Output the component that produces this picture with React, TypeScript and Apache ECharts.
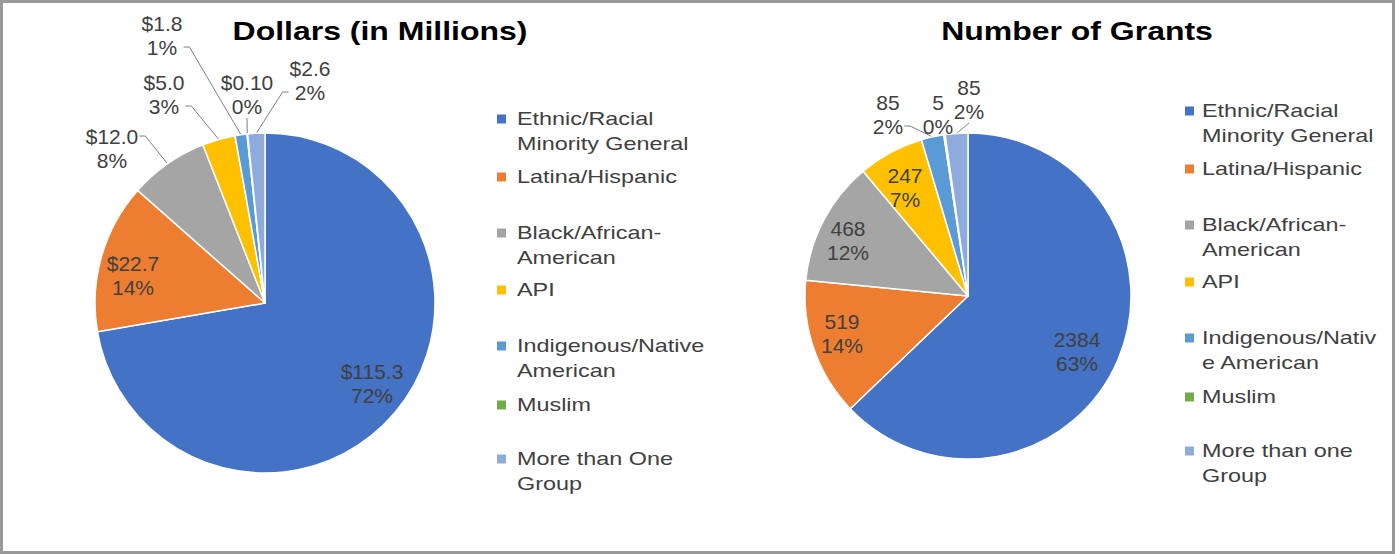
import React, { useEffect, useRef } from "react";
import * as echarts from "echarts";

// ---------- data ----------
const dollarTitle = "Dollars (in Millions)";
const grantTitle = "Number of Grants";

const dollarCategories = [
  "Ethnic/Racial\nMinority General",
  "Latina/Hispanic",
  "Black/African-\nAmerican",
  "API",
  "Indigenous/Native\nAmerican",
  "Muslim",
  "More than One\nGroup",
];
const grantCategories = [
  "Ethnic/Racial\nMinority General",
  "Latina/Hispanic",
  "Black/African-\nAmerican",
  "API",
  "Indigenous/Nativ\ne American",
  "Muslim",
  "More than one\nGroup",
];
const dollarValues = [115.3, 22.7, 12.0, 5.0, 1.8, 0.1, 2.6];
const grantValues = [2384, 519, 468, 247, 85, 5, 85];

const sliceColors = ["#4472C4", "#ED7D31", "#A5A5A5", "#FFC000", "#5B9BD5", "#70AD47", "#8FAADC"];

// ---------- layout ----------
const W = 1395;
const H = 554;
const FONT = "'Liberation Sans', Arial, sans-serif";
const TEXT_COLOR = "#404040";

const PIES = [
  {
    title: dollarTitle,
    categories: dollarCategories,
    values: dollarValues,
    fmt: (v: number) => "$" + (v < 1 ? v.toFixed(2) : v.toFixed(1)),
    cx: 265,
    cy: 303,
    r: 170,
    titleX: 380,
    legendIconX: 497,
    legendTextX: 517,
    legendY: [119, 177, 233, 290, 346, 405, 459],
    labelOffsets: [
      [107, 80],
      [-132, -28],
      [-153, -155],
      [-101, -209],
      [-103, -268],
      [-18, -209],
      [45, -223],
    ],
    attachTop: [false, false, true, false, false, false, false],
    outside: [false, false, true, true, true, true, true],
  },
  {
    title: grantTitle,
    categories: grantCategories,
    values: grantValues,
    fmt: (v: number) => String(v),
    cx: 968,
    cy: 296,
    r: 163,
    titleX: 1077,
    legendIconX: 1185,
    legendTextX: 1202,
    legendY: [111, 169, 225, 282, 338, 397, 451],
    labelOffsets: [
      [109, 55],
      [-126, 37],
      [-120, -56],
      [-63, -109],
      [-80, -182],
      [-30, -182],
      [1, -197],
    ],
    attachTop: [false, false, false, false, false, false, false],
    outside: [false, false, false, false, true, true, true],
  },
];

function midFraction(values: number[], i: number) {
  const total = values.reduce((a, b) => a + b, 0);
  let before = 0;
  for (let k = 0; k < i; k++) before += values[k];
  return (before + values[i] / 2) / total;
}

export default function App() {
  const ref = useRef<HTMLDivElement>(null);

  useEffect(() => {
    if (!ref.current) return;
    const chart = echarts.init(ref.current, undefined, { renderer: "svg" });

    const series = PIES.map((pie) => {
      const total = pie.values.reduce((a, b) => a + b, 0);
      return {
        type: "pie",
        center: [pie.cx, pie.cy],
        radius: pie.r,
        startAngle: 90,
        clockwise: true,
        avoidLabelOverlap: false,
        itemStyle: { borderColor: "#ffffff", borderWidth: 1.5 },
        emphasis: { disabled: true },
        label: {
          show: true,
          position: "outside",
          fontFamily: FONT,
          fontSize: 21,
          lineHeight: 24,
          color: TEXT_COLOR,
          formatter: (p: any) => pie.fmt(p.value) + "\n" + Math.round((p.value / total) * 100) + "%",
        },
        labelLine: {
          show: true,
          length: 8,
          length2: 6,
          smooth: false,
          lineStyle: { color: "#7f7f7f", width: 1 },
        },
        labelLayout: (p: any) => {
          const i = p.dataIndex;
          const [ox, oy] = pie.labelOffsets[i];
          const x = pie.cx + ox;
          const y = pie.cy + oy;
          const res: any = { x, y, align: "center", verticalAlign: "middle" };
          if (pie.outside[i]) {
            const ang = midFraction(pie.values, i) * Math.PI * 2;
            const ax = pie.cx + pie.r * Math.sin(ang);
            const ay = pie.cy - pie.r * Math.cos(ang);
            const w = p.labelRect.width;
            const h = p.labelRect.height;
            const ly = pie.attachTop[i] ? y - h / 4 : y + h / 4;
            let p1: number[];
            let p2: number[];
            if (ax > x + w / 2) {
              p2 = [x + w / 2 + 1, ly];
              p1 = [p2[0] + 6, p2[1]];
            } else if (ax < x - w / 2) {
              p2 = [x - w / 2 - 1, ly];
              p1 = [p2[0] - 6, p2[1]];
            } else {
              p2 = [x, y + h / 2];
              p1 = [x, y + h / 2];
            }
            res.labelLinePoints = [[ax, ay], p1, p2];
          }
          return res;
        },
        data: pie.values.map((v, i) => ({
          name: pie.categories[i],
          value: v,
          itemStyle: { color: sliceColors[i] },
          labelLine: { show: pie.outside[i] },
        })),
      };
    });

    const graphics: any[] = [
      {
        type: "rect",
        shape: { x: 1.5, y: 1.5, width: W - 3, height: H - 3 },
        style: { fill: "none", stroke: "#999999", lineWidth: 3 },
        silent: true,
      },
    ];

    PIES.forEach((pie) => {
      graphics.push({
        type: "text",
        x: pie.titleX,
        y: 31,
        scaleX: 1.23,
        style: {
          text: pie.title,
          x: 0,
          y: 0,
          align: "center",
          verticalAlign: "middle",
          font: "bold 26px " + FONT,
          fill: "#000000",
        },
      });
      pie.categories.forEach((name, i) => {
        const yc = pie.legendY[i];
        graphics.push({
          type: "rect",
          shape: { x: pie.legendIconX, y: yc - 4.5, width: 9, height: 9 },
          style: { fill: sliceColors[i] },
        });
        graphics.push({
          type: "text",
          x: pie.legendTextX,
          y: yc - 12.5,
          scaleX: 1.3,
          style: {
            text: name,
            x: 0,
            y: 0,
            align: "left",
            verticalAlign: "top",
            font: "18px " + FONT,
            lineHeight: 25,
            fill: TEXT_COLOR,
          },
        });
      });
    });

    chart.setOption({
      animation: false,
      backgroundColor: "#ffffff",
      series,
      graphic: graphics,
    });

    return () => chart.dispose();
  }, []);

  return (
    <div
      ref={ref}
      style={{ position: "absolute", left: 0, top: 0, width: W, height: H }}
    />
  );
}
